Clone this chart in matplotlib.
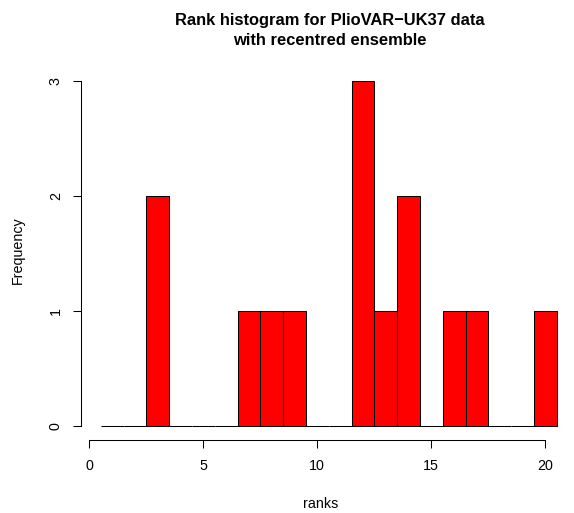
import matplotlib.pyplot as plt
import numpy as np

plt.rcParams['font.family'] = ['Liberation Sans', 'DejaVu Sans']

# rank histogram data (ranks 1..20)
ranks = list(range(1, 21))
counts = [0, 0, 2, 0, 0, 0, 1, 1, 1, 0, 0, 3, 1, 2, 0, 1, 1, 0, 0, 1]
xticks = [0, 5, 10, 15, 20]
yticks = [0, 1, 2, 3]

W, H = 574, 513
fig = plt.figure(figsize=(W / 100, H / 100), dpi=100)
L, R, T, B = 81, 560, 60, 440
ax = fig.add_axes([L / W, 1 - B / H, (R - L) / W, (B - T) / H])

# pixel -> data mapping
x0px, xscale = 89.3, 22.8
y0px, yscale = 426, 115.0
ax.set_xlim((L - x0px) / xscale, (R - x0px) / xscale)
ax.set_ylim((y0px - B) / yscale, (y0px - T) / yscale)

ax.bar(ranks, counts, width=1.0, color='red', edgecolor='black', linewidth=0.75)

for s in ['top', 'right']:
    ax.spines[s].set_visible(False)
ax.spines['bottom'].set_bounds(0, 20)
ax.spines['left'].set_bounds(0, 3)
for s in ['bottom', 'left']:
    ax.spines[s].set_linewidth(0.75)

ax.set_xticks(xticks)
ax.set_yticks(yticks)
ax.set_yticklabels([str(v) for v in yticks], rotation=90, va='center')
ax.tick_params(axis='both', length=6, width=0.75, labelsize=10.3)
ax.tick_params(axis='x', pad=8)
ax.tick_params(axis='y', pad=7)

ax.set_xlabel('ranks', fontsize=10.3, labelpad=17)
ax.set_ylabel('Frequency', fontsize=10.3, labelpad=17)
fig.suptitle('Rank histogram for PlioVAR\u2212UK37 data\nwith recentred ensemble',
             x=330 / W, y=1 - 13 / H, fontsize=11.9, fontweight='bold',
             va='top', linespacing=1.45)

fig.savefig('out.png', dpi=100)
